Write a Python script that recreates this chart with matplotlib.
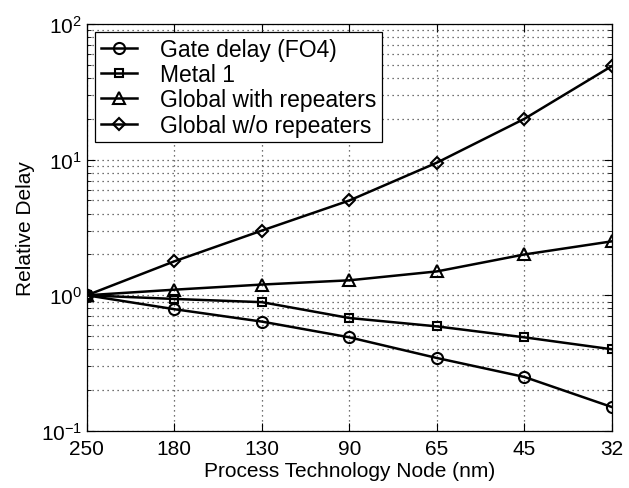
import matplotlib
matplotlib.use('Agg')
import matplotlib.pyplot as plt
import numpy as np

plt.rcParams['font.family'] = ['Liberation Sans', 'DejaVu Sans']
plt.rcParams['mathtext.fontset'] = 'custom'
plt.rcParams['mathtext.rm'] = 'Liberation Sans'
plt.rcParams['mathtext.it'] = 'Liberation Sans:italic'
plt.rcParams['mathtext.bf'] = 'Liberation Sans:bold'

nodes = ['250', '180', '130', '90', '65', '45', '32']
gate_delay = [1.0, 0.79, 0.64, 0.49, 0.345, 0.25, 0.15]
metal1 = [1.0, 0.94, 0.89, 0.68, 0.59, 0.49, 0.40]
global_rep = [1.0, 1.1, 1.2, 1.29, 1.5, 2.0, 2.5]
global_norep = [1.0, 1.78, 3.0, 5.0, 9.5, 20.0, 49.0]

series = [
    ('Gate delay (FO4)', gate_delay, 'o', 8),
    ('Metal 1', metal1, 's', 6),
    ('Global with repeaters', global_rep, '^', 8.5),
    ('Global w/o repeaters', global_norep, 'D', 6.5),
]

fig = plt.figure(figsize=(6.29, 4.89), dpi=100)
ax = fig.add_axes([0.138, 0.1166, 0.835, 0.8324])

x = np.arange(len(nodes))
for label, vals, m, ms in series:
    ax.plot(x, vals, color='black', lw=1.8, marker=m, ms=ms,
            mfc='none', mec='black', mew=1.5, label=label)

ax.set_yscale('log')
ax.set_ylim(0.1, 100)
ax.set_xlim(0, len(nodes) - 1)
ax.set_xticks(x)
ax.set_xticklabels(nodes)

dots = (0, (1, 3))
ax.grid(True, which='major', axis='both', ls=dots, color='#444444', lw=0.9)
ax.grid(True, which='minor', axis='y', ls=dots, color='#444444', lw=0.9)
ax.tick_params(which='both', direction='in', top=True, right=True, labelsize=15)
ax.tick_params(which='major', length=6)
ax.tick_params(which='minor', length=3)
ax.tick_params(axis='x', pad=6)
for s in ax.spines.values():
    s.set_linewidth(0.9)

ax.set_xlabel('Process Technology Node (nm)', fontsize=15, labelpad=2)
ax.set_ylabel('Relative Delay', fontsize=15, labelpad=4)

leg = ax.legend(loc='upper left', fontsize=16.5, frameon=True, fancybox=False,
                edgecolor='black', framealpha=1, handlelength=1.6,
                handletextpad=1.0, labelspacing=0.1, borderpad=0.25,
                borderaxespad=0.35)
leg.get_frame().set_linewidth(0.9)

fig.savefig('out.png', dpi=100)
